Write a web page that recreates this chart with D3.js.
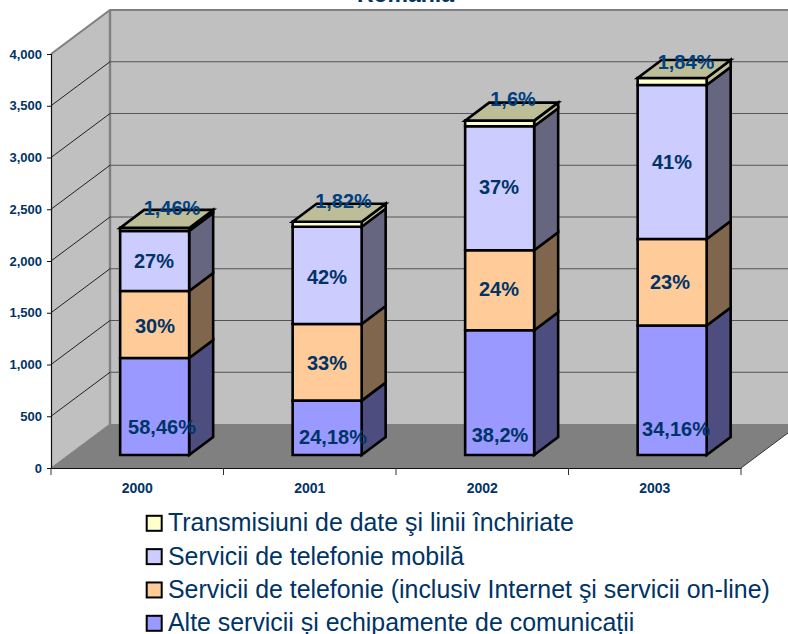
<!DOCTYPE html>
<html><head><meta charset="utf-8">
<script src="https://cdn.jsdelivr.net/npm/d3@7"></script>
<style>html,body{margin:0;padding:0;background:#fff;overflow:hidden}svg{display:block}text{font-family:"Liberation Sans",Arial,sans-serif}</style>
</head><body>
<script>
const years = ["2000","2001","2002","2003"];
const altele = [937, 525, 1205, 1251];
const telefonie = [647, 741, 773, 836];
const mobila = [580, 940, 1198, 1488];
const date = [30, 48, 55, 68];
const labelsAltele = ["58,46%","24,18%","38,2%","34,16%"];
const labelsTelefonie = ["30%","33%","24%","23%"];
const labelsMobila = ["27%","42%","37%","41%"];
const labelsDate = ["1,46%","1,82%","1,6%","1,84%"];
const ticks = [0,500,1000,1500,2000,2500,3000,3500,4000];
const title = "România";
const legendNames = ["Transmisiuni de date şi linii închiriate","Servicii de telefonie mobilă","Servicii de telefonie (inclusiv Internet şi servicii on-line)","Alte servicii și echipamente de comunicații"];

const ink = "#003366";
const series = [
 {v:altele, l:labelsAltele, front:"#9999ff", side:"#4d4d80", top:"#4d4d80"},
 {v:telefonie, l:labelsTelefonie, front:"#ffcc99", side:"#80664d", top:"#80664d"},
 {v:mobila, l:labelsMobila, front:"#ccccff", side:"#666680", top:"#666680"},
 {v:date, l:labelsDate, front:"#ffffcc", side:"#bdbd98", top:"#bdbd98"}
];
const W=788,H=634;
const svg=d3.select("body").append("svg").attr("width",W).attr("height",H);

const y=d3.scaleLinear().domain([0,4000]).range([468,54]);
const x=d3.scaleBand().domain(years).range([51,741]);
const wallDx=59, wallDy=-44;
const barFrontDx=17.4, barFrontDy=-13;
const barDx=24, barDy=-18;
const barW=69;

const wall="#c0c0c0", edge="#808080";
const poly=(pts,fill,stroke,sw)=>svg.append("polygon").attr("points",pts.map(p=>p.join(",")).join(" ")).attr("fill",fill).attr("stroke",stroke||"none").attr("stroke-width",sw||0).attr("stroke-linejoin","miter");
const x0=x.range()[0], x1=x.range()[1];
poly([[x0+wallDx,y(4000)+wallDy],[W+20,y(4000)+wallDy],[W+20,y(0)+wallDy],[x0+wallDx,y(0)+wallDy]],wall);
poly([[x0,y(4000)],[x0+wallDx,y(4000)+wallDy],[x0+wallDx,y(0)+wallDy],[x0,y(0)]],wall);
poly([[x0,y(0)],[x0+wallDx,y(0)+wallDy],[x1+wallDx,y(0)+wallDy],[x1,y(0)]],"#808080");
svg.append("path").attr("d",`M${x0},${y(4000)}L${x0+wallDx},${y(4000)+wallDy}L${W+20},${y(4000)+wallDy}`).attr("fill","none").attr("stroke",edge).attr("stroke-width",2);
svg.append("path").attr("d",`M${x0+wallDx},${y(4000)+wallDy}V${y(0)+wallDy}`).attr("fill","none").attr("stroke",edge).attr("stroke-width",2.4);
svg.append("path").attr("d",`M${x0},${y(0)}L${x0+wallDx},${y(0)+wallDy}`).attr("stroke",edge).attr("stroke-width",1);
svg.append("path").attr("d",`M${x1},${y(0)}L${x1+wallDx},${y(0)+wallDy}`).attr("stroke","#333").attr("stroke-width",1);
const grid=ticks.filter(t=>t>0&&t<4000);
svg.selectAll("path.gl").data(grid).join("path").attr("class","gl")
 .attr("d",t=>`M${x0},${y(t)}L${x0+wallDx},${y(t)+wallDy}`)
 .attr("fill","none").attr("stroke","#222").attr("stroke-width",1);
svg.selectAll("path.gb").data(grid).join("path").attr("class","gb")
 .attr("d",t=>`M${x0+wallDx},${y(t)+wallDy}H${W+20}`)
 .attr("fill","none").attr("stroke","#555").attr("stroke-width",1.2);

const gy=svg.append("g").attr("transform",`translate(${x0},0)`).call(d3.axisLeft(y).tickValues(ticks).tickSize(4).tickPadding(5).tickFormat(d3.format(",")));
const xAxisG=svg.append("g").attr("transform",`translate(0,${y(0)})`).call(d3.axisBottom(x).tickSize(0).tickPadding(15));
xAxisG.selectAll("line.t").data(years.concat(["end"])).join("line").attr("class","t")
 .attr("x1",(d,i)=>x0+i*x.step()).attr("x2",(d,i)=>x0+i*x.step()).attr("y1",0).attr("y2",7).attr("stroke","#333");
[gy,xAxisG].forEach(g=>{g.selectAll("path.domain").attr("stroke","#111").attr("stroke-width",1.2);
 g.selectAll(".tick line").attr("stroke","#111");
 g.selectAll("text").attr("fill",ink).attr("font-weight","bold").attr("font-family",'"Liberation Sans",Arial,sans-serif');});
gy.selectAll("text").attr("font-size",13);
xAxisG.selectAll("text").attr("font-size",14);

const hpx=v=>y(0)-y(v);
const base=y(0)+barFrontDy;
years.forEach((yr,i)=>{
  const bx=x(yr)+x.bandwidth()/2-barW/2+barFrontDx;
  let cum=0;
  series.forEach((s,si)=>{
    const v=s.v[i], yb=base-hpx(cum), yt=base-hpx(cum+v);
    const last=si===series.length-1;
    poly([[bx+barW,yb],[bx+barW+barDx,yb+barDy],[bx+barW+barDx,yt+barDy],[bx+barW,yt]],s.side,"#000",2.6);
    poly([[bx,yb],[bx+barW,yb],[bx+barW,yt],[bx,yt]],s.front,"#000",2.6);
    if(last) poly([[bx,yt],[bx+barW,yt],[bx+barW+barDx,yt+barDy],[bx+barDx,yt+barDy]],s.top,"#000",2.6);
    cum+=v;
  });
});

const labelPos=[
 [[162,427],[155,326],[154,261],[172,208]],
 [[333,437],[327,363],[327,277],[343.5,201]],
 [[500,435],[499,289],[499,187],[513,99]],
 [[676,429],[670,282],[672,162],[686,62]]
];
years.forEach((yr,i)=>{
  series.forEach((s,si)=>{
    const p=labelPos[i][si];
    svg.append("text").attr("x",p[0]).attr("y",p[1]).attr("dy","0.35em").attr("text-anchor","middle")
      .attr("font-size",20).attr("font-weight","bold").attr("fill",si===3?"#004080":ink).text(s.l[i]);
  });
});

svg.append("text").attr("x",405.5).attr("y",2).attr("text-anchor","middle").attr("font-size",23).attr("font-weight","bold").attr("fill",ink).text(title);

const legColors=[series[3].front,series[2].front,series[1].front,series[0].front];
const ly=d3.scalePoint().domain(legendNames).range([523.3,623.3]);
const leg=svg.selectAll("g.leg").data(legendNames).join("g").attr("class","leg").attr("transform",d=>`translate(0,${ly(d)})`);
leg.append("rect").attr("x",146.7).attr("y",-7.5).attr("width",15).attr("height",15).attr("fill",(d,i)=>legColors[i]).attr("stroke","#000").attr("stroke-width",2);
leg.append("text").attr("x",168).attr("y",8).attr("font-size",24.9).attr("fill",ink).text(d=>d);
</script>
</body></html>
